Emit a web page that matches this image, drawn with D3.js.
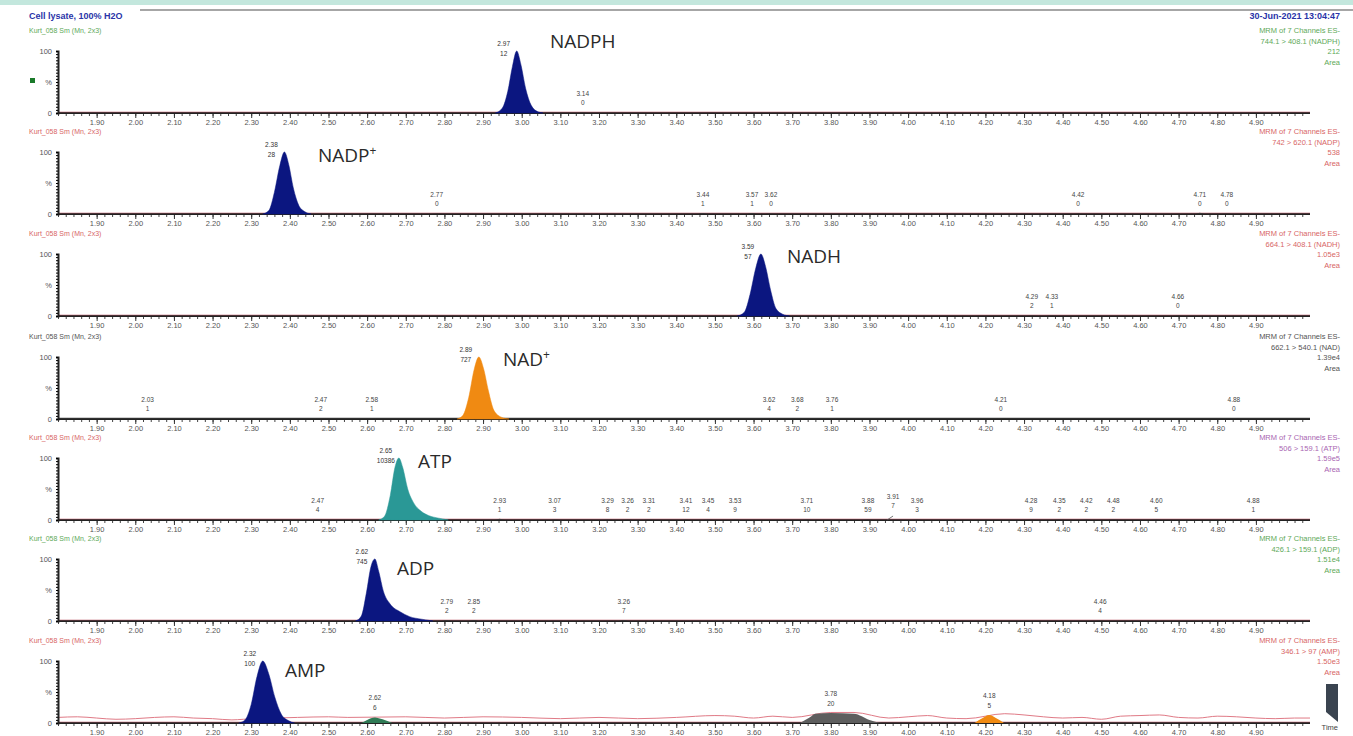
<!DOCTYPE html>
<html>
<head>
<meta charset="utf-8">
<script src="https://cdn.jsdelivr.net/npm/d3@7"></script>
<style>
  body { margin: 0; background: #fff; }
  svg { display: block; font-family: "Liberation Sans", Arial, sans-serif; }
  .tick text { fill: #555; }
</style>
</head>
<body>
<svg id="chart" width="1353" height="736"></svg>
<script>
// ---- data ----
const compounds = ["NADPH", "NADP", "NADH", "NAD", "ATP", "ADP", "AMP"];
const compoundSup = ["", "+", "", "+", "", "", ""];
const transitions = ["744.1 > 408.1 (NADPH)", "742 > 620.1 (NADP)", "664.1 > 408.1 (NADH)",
  "662.1 > 540.1 (NAD)", "506 > 159.1 (ATP)", "426.1 > 159.1 (ADP)", "346.1 > 97 (AMP)"];
const maxIntensity = ["212", "538", "1.05e3", "1.39e4", "1.59e5", "1.51e4", "1.50e3"];
const timeTicks = [1.9, 2.0, 2.1, 2.2, 2.3, 2.4, 2.5, 2.6, 2.7, 2.8, 2.9, 3.0, 3.1, 3.2, 3.3,
  3.4, 3.5, 3.6, 3.7, 3.8, 3.9, 4.0, 4.1, 4.2, 4.3, 4.4, 4.5, 4.6, 4.7, 4.8, 4.9];

// main peak profiles [time, %]
const mainPeaks = [
  [[2.932,0],[2.95,8],[2.964,35],[2.976,75],[2.987,100],[2.998,78],[3.01,40],[3.025,12],[3.042,2],[3.055,0]],
  [[2.33,0],[2.346,6],[2.36,35],[2.374,78],[2.386,100],[2.397,80],[2.409,42],[2.423,14],[2.438,4],[2.455,0]],
  [[3.558,0],[3.576,6],[3.591,35],[3.606,78],[3.619,100],[3.631,80],[3.644,42],[3.658,12],[3.675,3],[3.693,0]],
  [[2.833,0],[2.848,6],[2.863,35],[2.877,80],[2.889,100],[2.901,82],[2.914,45],[2.928,14],[2.947,3],[2.967,0]],
  [[2.63,0],[2.645,6],[2.66,40],[2.672,85],[2.682,100],[2.692,85],[2.705,50],[2.72,28],[2.74,14],[2.76,7],[2.785,3],[2.81,0]],
  [[2.57,0],[2.585,8],[2.598,45],[2.61,88],[2.62,100],[2.63,80],[2.642,48],[2.66,27],[2.685,15],[2.71,7],[2.74,3],[2.77,0]],
  [[2.268,0],[2.284,5],[2.3,30],[2.315,75],[2.33,100],[2.345,80],[2.361,42],[2.378,14],[2.396,4],[2.412,0]]
];
const mainLabels = [["2.97","12"], ["2.38","28"], ["3.59","57"], ["2.89","727"],
  ["2.65","10386"], ["2.62","745"], ["2.32","100"]];

// minor peaks per panel: [time, rt text, area text, height %]
const minorPeaks = [
  [[3.158,"3.14","0",1]],
  [[2.780,"2.77","0",1],[3.469,"3.44","1",1.5],[3.596,"3.57","1",1.5],[3.645,"3.62","0",1],
   [4.440,"4.42","0",1],[4.755,"4.71","0",2],[4.825,"4.78","0",1]],
  [[4.320,"4.29","2",1],[4.372,"4.33","1",1],[4.698,"4.66","0",1]],
  [[2.032,"2.03","1",1],[2.480,"2.47","2",1],[2.612,"2.58","1",1],[3.640,"3.62","4",1],
   [3.713,"3.68","2",1],[3.803,"3.76","1",1],[4.240,"4.21","0",1],[4.843,"4.88","0",1]],
  [[2.472,"2.47","4",1],[2.943,"2.93","1",2],[3.085,"3.07","3",1],[3.222,"3.29","8",1],
   [3.274,"3.26","2",1],[3.329,"3.31","2",1],[3.425,"3.41","12",1],[3.482,"3.45","4",1],
   [3.552,"3.53","9",1],[3.738,"3.71","10",1],[3.896,"3.88","59",1],[3.961,"3.91","7",8],
   [4.023,"3.96","3",1],[4.318,"4.28","9",1],[4.391,"4.35","2",1],[4.461,"4.42","2",1],
   [4.531,"4.48","2",1],[4.642,"4.60","5",1],[4.893,"4.88","1",1]],
  [[2.806,"2.79","2",1.5],[2.876,"2.85","2",1.5],[3.264,"3.26","7",1.5],[4.497,"4.46","4",1]],
  []
];

// extra coloured peaks in the AMP trace
const ampExtraPeaks = [
  { rt: "2.62", area: "6", pts: [[2.585,0],[2.60,5],[2.62,9],[2.64,6],[2.665,0]] },
  { rt: "3.78", area: "20", pts: [[3.72,0],[3.745,9],[3.76,15],[3.8,16],[3.86,15],[3.9,5],[3.93,0]] },
  { rt: "4.18", area: "5", pts: [[4.172,0],[4.193,8],[4.21,13],[4.227,8],[4.248,0]] }
];
// wandering background trace in the AMP panel [time, %]
const ampNoise = [[1.8,9],[1.85,10],[1.9,8],[1.95,6],[2.0,7],[2.05,9],[2.1,10],[2.15,8],[2.2,7],
  [2.25,5],[2.28,6],[2.42,9],[2.5,10],[2.55,9],[2.7,10],[2.8,8],[2.9,10],[3.0,9],[3.1,7],[3.2,9],
  [3.3,7],[3.4,9],[3.5,12],[3.55,11],[3.6,8],[3.65,11],[3.7,9],[3.8,17],[3.86,17],[3.95,8],
  [4.0,10],[4.05,12],[4.1,8],[4.15,7],[4.25,15],[4.3,13],[4.35,10],[4.4,8],[4.45,9],[4.5,6],
  [4.55,11],[4.6,12],[4.65,13],[4.7,9],[4.75,8],[4.8,11],[4.85,10],[4.9,8],[4.95,7],[5.0,8],[5.04,8]];

// ---- styles ----
const inkColors = ["#3f9a3a", "#d24a4a", "#d24a4a", "#333333", "#9a4aa6", "#3f9a3a", "#d24a4a"];
const headColors = ["#3f9a3a", "#d24a4a", "#d24a4a", "#333333", "#d24a4a", "#3f9a3a", "#d24a4a"];
const peakFills = ["#0b1680", "#0b1680", "#0b1680", "#f08a12", "#2a9896", "#0b1680", "#0b1680"];
const ampExtraFills = ["#2f7a55", "#5e5e5e", "#f08a12"];
const baselines = [113, 214, 316, 419, 520, 621, 723];
const labelPos = [[550, 48], [318, 162], [787, 263], [503, 366], [418, 468], [397, 575], [285, 677]];
const plotH = 62;

const svg = d3.select("#chart");

// top strip
svg.append("rect").attr("x", 0).attr("y", 0).attr("width", 1353).attr("height", 5).attr("fill", "#c3e7dd");
svg.append("line").attr("x1", 140).attr("x2", 1353).attr("y1", 10).attr("y2", 10)
  .attr("stroke", "#888").attr("stroke-width", 1.5);
svg.append("text").attr("x", 29).attr("y", 19).attr("font-size", 9).attr("font-weight", "bold")
  .attr("fill", "#2a34a8").text("Cell lysate, 100% H2O");
svg.append("text").attr("x", 1340).attr("y", 19).attr("font-size", 9).attr("font-weight", "bold")
  .attr("text-anchor", "end").attr("fill", "#2a34a8").text("30-Jun-2021  13:04:47");

const x = d3.scaleLinear().domain([1.8, 5.04]).range([58, 1310]);

compounds.forEach((name, i) => {
  const base = baselines[i];
  const y = d3.scaleLinear().domain([0, 100]).range([base, base - plotH]);
  const g = svg.append("g");
  const area = d3.area().x(d => x(d[0])).y0(y(0)).y1(d => y(d[1])).curve(d3.curveMonotoneX);
  const line = d3.line().x(d => x(d[0])).y(d => y(d[1])).curve(d3.curveMonotoneX);

  // header and right block
  g.append("text").attr("x", 29).attr("y", base - 80).attr("font-size", 7)
    .attr("fill", headColors[i]).attr("opacity", 0.85).text("Kurt_058 Sm (Mn, 2x3)");
  ["MRM of 7 Channels ES-", transitions[i], maxIntensity[i], "Area"].forEach((t, k) => {
    g.append("text").attr("x", 1340).attr("y", base - 80 + k * 10.5).attr("font-size", 7.5)
      .attr("text-anchor", "end").attr("fill", inkColors[i]).attr("opacity", 0.85).text(t);
  });

  // AMP background trace
  if (i === 6) {
    g.append("path").datum(ampNoise).attr("d", line).attr("fill", "none")
      .attr("stroke", "#e07a86").attr("stroke-width", 1);
  }

  // axes
  g.append("g").attr("transform", `translate(0,${base})`)
    .call(d3.axisBottom(x).tickValues(d3.range(1.8, 5.04, 0.02)).tickSize(3).tickFormat(""))
    .call(a => a.select(".domain").remove())
    .selectAll("line").attr("stroke", "#444");
  g.append("g").attr("transform", `translate(0,${base})`)
    .call(d3.axisBottom(x).tickValues(timeTicks).tickSize(5).tickFormat(d3.format(".2f")))
    .call(a => a.select(".domain").remove())
    .call(a => a.selectAll("text").attr("font-size", 7.5).attr("dy", "0.55em"))
    .selectAll("line").attr("stroke", "#333");
  g.append("line").attr("x1", 58).attr("x2", 1310).attr("y1", base).attr("y2", base)
    .attr("stroke", "#222").attr("stroke-width", 2);
  g.append("line").attr("x1", 58).attr("x2", 1310).attr("y1", base - 1).attr("y2", base - 1)
    .attr("stroke", inkColors[i] === "#333333" ? "#555" : "#c06070").attr("stroke-width", 0.8)
    .attr("opacity", 0.7);
  g.append("g").attr("transform", "translate(58,0)")
    .call(d3.axisLeft(y).tickValues(d3.range(0, 101, 5)).tickSize(2).tickFormat(""))
    .call(a => a.select(".domain").attr("stroke", "#222").attr("stroke-width", 2));
  [[0, "0"], [50, "%"], [100, "100"]].forEach(([v, t]) => {
    g.append("text").attr("x", 52).attr("y", y(v) + 3).attr("font-size", 7.5)
      .attr("text-anchor", "end").attr("fill", "#555").text(t);
  });

  // minor peaks
  minorPeaks[i].forEach(([t, rt, ar, h]) => {
    if (h > 3) {
      g.append("line").attr("x1", x(t) - 6).attr("x2", x(t)).attr("y1", y(0)).attr("y2", y(h) + 1)
        .attr("stroke", "#555").attr("stroke-width", 0.8);
    } else {
      const pts = [[t - 0.012, 0], [t, h], [t + 0.012, 0]];
      g.append("path").datum(pts).attr("d", area).attr("fill", "#333").attr("opacity", 0.8);
    }
    g.append("text").attr("x", x(t)).attr("y", y(h) - 16).attr("font-size", 6.5)
      .attr("text-anchor", "middle").attr("fill", "#444").text(rt);
    g.append("text").attr("x", x(t)).attr("y", y(h) - 7).attr("font-size", 6.5)
      .attr("text-anchor", "middle").attr("fill", "#444").text(ar);
  });

  // AMP extra peaks
  if (i === 6) {
    ampExtraPeaks.forEach((p, k) => {
      g.append("path").datum(p.pts).attr("d", area).attr("fill", ampExtraFills[k]);
      const top = d3.max(p.pts, d => d[1]);
      const apex = p.pts.find(d => d[1] === top)[0];
      g.append("text").attr("x", x(apex)).attr("y", y(top) - 17).attr("font-size", 6.5)
        .attr("text-anchor", "middle").attr("fill", "#444").text(p.rt);
      g.append("text").attr("x", x(apex)).attr("y", y(top) - 7).attr("font-size", 6.5)
        .attr("text-anchor", "middle").attr("fill", "#444").text(p.area);
    });
  }

  // main peak
  const pk = mainPeaks[i];
  g.append("path").datum(pk).attr("d", area).attr("fill", peakFills[i])
    .attr("stroke", peakFills[i]).attr("stroke-width", 0.5);
  const apexT = pk.find(d => d[1] === 100)[0];
  g.append("text").attr("x", x(apexT) - 13).attr("y", y(100) - 5).attr("font-size", 6.5)
    .attr("text-anchor", "middle").attr("fill", "#333").text(mainLabels[i][0]);
  g.append("text").attr("x", x(apexT) - 13).attr("y", y(100) + 5).attr("font-size", 6.5)
    .attr("text-anchor", "middle").attr("fill", "#333").text(mainLabels[i][1]);

  // compound name
  const nm = g.append("text").attr("x", labelPos[i][0]).attr("y", labelPos[i][1])
    .attr("font-size", 19).attr("fill", "#2a2a2a")
    .attr("font-family", "'Open Sans', 'Liberation Sans', sans-serif").text(name);
  if (compoundSup[i]) nm.append("tspan").attr("font-size", 12).attr("dy", -7).text(compoundSup[i]);
});

// green marker and misc
svg.append("rect").attr("x", 30).attr("y", 78).attr("width", 5).attr("height", 5).attr("fill", "#1a7a2a");
svg.append("text").attr("x", 1338).attr("y", 730).attr("font-size", 7.5)
  .attr("text-anchor", "end").attr("fill", "#444").text("Time");
svg.append("path").attr("d", "M1326,684 L1338,684 L1338,722 L1326,712 Z").attr("fill", "#3a4450");
</script>
</body>
</html>
